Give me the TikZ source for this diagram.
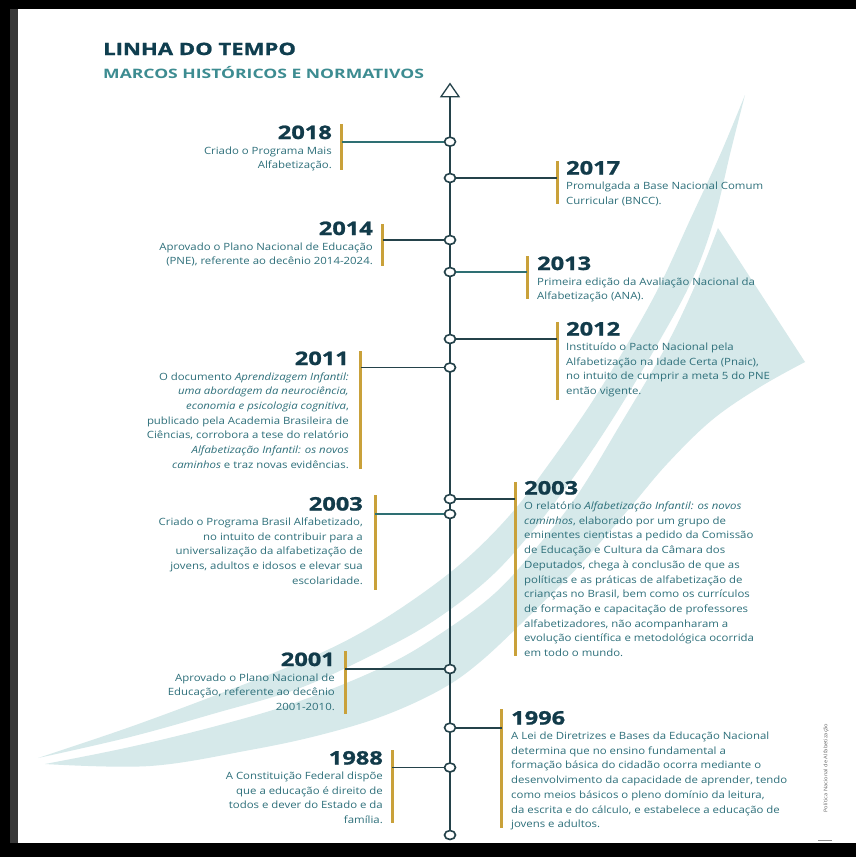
\documentclass[tikz,border=0pt]{standalone}
\usepackage{fontspec}
\setmainfont{Open Sans}
\newfontfamily\bodyfont{Open Sans}[FakeStretch=1.14]
\newfontfamily\yearfont{Open Sans}[FakeStretch=1.27, FakeBold=1.2]
\newfontfamily\titlefont{Open Sans}[FakeStretch=1.3, FakeBold=1]
\newfontfamily\subfont{Open Sans}[FakeStretch=1.35]
\usetikzlibrary{shapes.geometric}
\definecolor{yearcol}{HTML}{123B4A}
\definecolor{titlecol}{HTML}{0F3E4F}
\definecolor{subcol}{HTML}{3D8C91}
\definecolor{bodycol}{HTML}{2D6F7A}
\definecolor{goldcol}{HTML}{C9A13A}
\definecolor{linecol}{HTML}{24424A}
\definecolor{tealline}{HTML}{2E6F73}
\definecolor{bgcol}{HTML}{D6E9EA}
\tikzset{
  dot/.style={draw=linecol, fill=white, line width=1.6pt, ellipse, minimum width=11pt, minimum height=9pt, inner sep=0pt},
  goldbar/.style={fill=goldcol, draw=none, minimum width=3pt, inner sep=0pt},
  conn/.style={draw=linecol, line width=1.6pt},
  tconn/.style={draw=tealline, line width=1.6pt},
  yearL/.style={anchor=base east, inner sep=0pt, text=yearcol, font=\yearfont\bfseries\fontsize{18.6}{20}\selectfont},
  yearR/.style={anchor=base west, inner sep=0pt, text=yearcol, font=\yearfont\bfseries\fontsize{18.6}{20}\selectfont},
  descL/.style={anchor=base east, inner sep=0pt, text=bodycol},
  descR/.style={anchor=base west, inner sep=0pt, text=bodycol},
}
\newcommand{\dL}[1]{\parbox[t]{300pt}{\raggedleft\bodyfont\fontsize{10}{14.7}\selectfont #1}}
\newcommand{\dR}[1]{\parbox[t]{300pt}{\raggedright\bodyfont\fontsize{10}{14.7}\selectfont #1}}
\begin{document}
\begin{tikzpicture}[x=1pt,y=-1pt]
\useasboundingbox (0,0) rectangle (856,857);
\fill[white] (0,0) rectangle (856,857);
% background swooshes
\fill[bgcol] plot[smooth, tension=0.6] coordinates {(38,758) (130,727) (219,694) (300,662) (355,636) (410,602) (464,561) (510,515) (546,468) (590,405) (628,343) (660,285) (690,220) (720,155) (745,95)}
  -- plot[smooth, tension=0.6] coordinates {(745,95) (731,150) (714,220) (692,280) (657,345) (612,420) (570,482) (525,540) (485,582) (432,622) (378,652) (300,688) (216,713) (130,737) (38,758)} -- cycle;
\fill[bgcol] plot[smooth, tension=0.6] coordinates {(45,764) (130,747) (220,725) (300,701) (385,666) (440,634) (494,594) (537,547) (578,494) (620,425) (664,350) (694,288) (718,228)}
  -- (805,362)
  -- plot[smooth, tension=0.6] coordinates {(805,362) (760,387) (712,420) (667,464) (628,510) (580,565) (530,615) (480,662) (440,690) (383,716) (320,735) (250,750) (150,766) (45,764)} -- cycle;
% frame
\fill[black] (0,0) rectangle (856,9);
\fill[black] (0,0) rectangle (10,857);
\fill[black!78] (10,9) rectangle (18,843);
\fill[black] (0,843) rectangle (856,857);
\draw[black!45, line width=0.8pt] (818,840) -- (832,840);
% title
\node[anchor=base west, inner sep=0pt, text=titlecol, font=\titlefont\bfseries\fontsize{17}{20}\selectfont] (title) at (103,55) {LINHA DO TEMPO};
\node[anchor=base west, inner sep=0pt, text=subcol, font=\subfont\bfseries\fontsize{13}{15}\selectfont] (subtitle) at (103,78) {MARCOS HISTÓRICOS E NORMATIVOS};
% axis
\node[draw=linecol, fill=white, line width=1.3pt, isosceles triangle, isosceles triangle stretches, shape border rotate=90, minimum height=13pt, minimum width=18pt, inner sep=0pt] (top) at (450,92) {};
\node[dot] (bot) at (450,835) {};
\draw[draw=linecol, line width=2.2pt] (bot.north) -- (top.south);
% circles
\node[dot] (c18) at (450,141.7) {};
\node[dot] (c17) at (450,178) {};
\node[dot] (c14) at (450,240) {};
\node[dot] (c13) at (450,272) {};
\node[dot] (c12) at (450,339) {};
\node[dot] (c11) at (450,367.5) {};
\node[dot] (c03r) at (450,499) {};
\node[dot] (c03l) at (450,514) {};
\node[dot] (c01) at (450,669) {};
\node[dot] (c96) at (450,727.7) {};
\node[dot] (c88) at (450,767.5) {};
% gold bars
\node[goldbar, minimum height=46pt] (b18) at (341.5,147) {};
\node[goldbar, minimum height=43pt] (b17) at (557,182.5) {};
\node[goldbar, minimum height=42pt] (b14) at (382.5,245) {};
\node[goldbar, minimum height=43pt] (b13) at (527,277.5) {};
\node[goldbar, minimum height=78pt] (b12) at (557,361) {};
\node[goldbar, minimum height=118pt] (b11) at (360.5,410) {};
\node[goldbar, minimum height=174pt] (b03r) at (515,569) {};
\node[goldbar, minimum height=95pt] (b03l) at (375,542.5) {};
\node[goldbar, minimum height=63pt] (b01) at (345,682.5) {};
\node[goldbar, minimum height=119pt] (b96) at (501.5,768.5) {};
\node[goldbar, minimum height=73pt] (b88) at (392,786.5) {};
% connectors
\draw[tconn] (c18.west) -- (c18.west -| b18.center);
\draw[conn] (c17.east) -- (c17.east -| b17.center);
\draw[conn] (c14.west) -- (c14.west -| b14.center);
\draw[tconn] (c13.east) -- (c13.east -| b13.center);
\draw[conn] (c12.east) -- (c12.east -| b12.center);
\draw[conn] (c11.west) -- (c11.west -| b11.center);
\draw[conn] (c03r.east) -- (c03r.east -| b03r.center);
\draw[tconn] (c03l.west) -- (c03l.west -| b03l.center);
\draw[conn] (c01.west) -- (c01.west -| b01.center);
\draw[conn] (c96.east) -- (c96.east -| b96.center);
\draw[conn] (c88.west) -- (c88.west -| b88.center);
% texts
\node[yearL] (y18) at (332,139) {2018};
\node[descL] (d18) at ([yshift=-15pt]y18.base east) {\dL{Criado o Programa Mais\\Alfabetização.}};
\node[yearR] (y17) at (566,174.5) {2017};
\node[descR] (d17) at ([yshift=-15pt]y17.base west) {\dR{Promulgada a Base Nacional Comum\\Curricular (BNCC).}};
\node[yearL] (y14) at (373,235) {2014};
\node[descL] (d14) at ([yshift=-15pt]y14.base east) {\dL{Aprovado o Plano Nacional de Educação\\(PNE), referente ao decênio 2014-2024.}};
\node[yearR] (y13) at (537,270) {2013};
\node[descR] (d13) at ([yshift=-15pt]y13.base west) {\dR{Primeira edição da Avaliação Nacional da\\Alfabetização (ANA).}};
\node[yearR] (y12) at (566,335.5) {2012};
\node[descR] (d12) at ([yshift=-15pt]y12.base west) {\dR{Instituído o Pacto Nacional pela\\Alfabetização na Idade Certa (Pnaic),\\no intuito de cumprir a meta 5 do PNE\\então vigente.}};
\node[yearL] (y11) at (349,365) {2011};
\node[descL] (d11) at ([yshift=-15pt]y11.base east) {\dL{O documento \textit{Aprendizagem Infantil:}\\\textit{uma abordagem da neurociência,}\\\textit{economia e psicologia cognitiva},\\publicado pela Academia Brasileira de\\Ciências, corrobora a tese do relatório\\\textit{Alfabetização Infantil: os novos}\\\textit{caminhos} e traz novas evidências.}};
\node[yearR] (y03r) at (524,494.5) {2003};
\node[descR] (d03r) at ([yshift=-15pt]y03r.base west) {\dR{O relatório \textit{Alfabetização Infantil: os novos}\\\textit{caminhos}, elaborado por um grupo de\\eminentes cientistas a pedido da Comissão\\de Educação e Cultura da Câmara dos\\Deputados, chega à conclusão de que as\\políticas e as práticas de alfabetização de\\crianças no Brasil, bem como os currículos\\de formação e capacitação de professores\\alfabetizadores, não acompanharam a\\evolução científica e metodológica ocorrida\\em todo o mundo.}};
\node[yearL] (y03l) at (363,510.5) {2003};
\node[descL] (d03l) at ([yshift=-15pt]y03l.base east) {\dL{Criado o Programa Brasil Alfabetizado,\\no intuito de contribuir para a\\universalização da alfabetização de\\jovens, adultos e idosos e elevar sua\\escolaridade.}};
\node[yearL] (y01) at (335,666) {2001};
\node[descL] (d01) at ([yshift=-15pt]y01.base east) {\dL{Aprovado o Plano Nacional de\\Educação, referente ao decênio\\2001-2010.}};
\node[yearR] (y96) at (511,724.5) {1996};
\node[descR] (d96) at ([yshift=-15pt]y96.base west) {\dR{A Lei de Diretrizes e Bases da Educação Nacional\\determina que no ensino fundamental a\\formação básica do cidadão ocorra mediante o\\desenvolvimento da capacidade de aprender, tendo\\como meios básicos o pleno domínio da leitura,\\da escrita e do cálculo, e estabelece a educação de\\jovens e adultos.}};
\node[yearL] (y88) at (383,764.5) {1988};
\node[descL] (d88) at ([yshift=-15pt]y88.base east) {\dL{A Constituição Federal dispõe\\que a educação é direito de\\todos e dever do Estado e da\\família.}};
% side note
\node[rotate=90, inner sep=0pt, text=black!60, font=\bodyfont\fontsize{5}{6}\selectfont] (side) at (826,768) {Política Nacional de Alfabetização};
\end{tikzpicture}
\end{document}
